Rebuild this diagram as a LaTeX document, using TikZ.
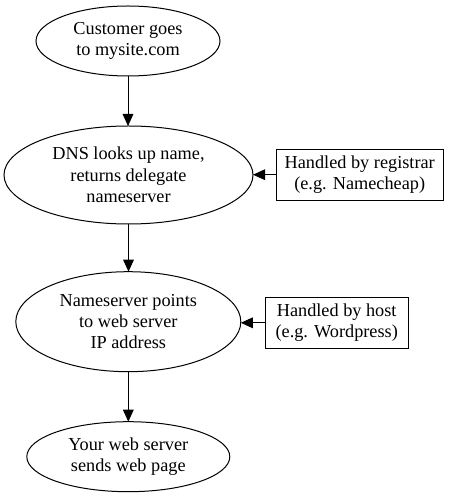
\documentclass[tikz,border=0pt]{standalone}
\usepackage{fontspec}
\setmainfont{Liberation Serif}
\usetikzlibrary{shapes.geometric,arrows.meta}
\begin{document}
\begin{tikzpicture}[x=0.75pt,y=-0.75pt,
  every node/.style={font=\fontsize{13.7pt}{16pt}\selectfont, align=center, inner sep=0pt, outer sep=0pt, line width=0.75pt},
  ell/.style={draw, ellipse},
  rbox/.style={draw, rectangle},
  conn/.style={line width=0.75pt, -{Triangle[length=9pt,width=8pt]}}]
\useasboundingbox (0,0) rectangle (453,498);
\node[ell, minimum width=138pt, minimum height=52.5pt] (a) at (128,41) {Customer goes\\to mysite.com};
\node[ell, minimum width=186.75pt, minimum height=73.5pt] (b) at (128.5,175) {DNS looks up name,\\returns delegate\\nameserver};
\node[rbox, minimum width=125.25pt, minimum height=38.25pt] (r) at (359.7,174.7) {Handled by registrar\\(e.g. Namecheap)};
\node[ell, minimum width=168.75pt, minimum height=75pt] (c) at (128.3,321.7) {Nameserver points\\to web server\\IP address};
\node[rbox, minimum width=107.25pt, minimum height=38.25pt] (h) at (336.7,322.8) {Handled by host\\(e.g. Wordpress)};
\node[ell, minimum width=152.25pt, minimum height=52.5pt] (d) at (128.3,456.7) {Your web server\\sends web page};
\draw[conn] (a.south) -- (a.south |- b.north);
\draw[conn] (b.south) -- (b.south |- c.north);
\draw[conn] (c.south) -- (c.south |- d.north);
\draw[conn] (r.west) -- (b.east |- r.west);
\draw[conn] (h.west) -- (c.east |- h.west);
\end{tikzpicture}
\end{document}
